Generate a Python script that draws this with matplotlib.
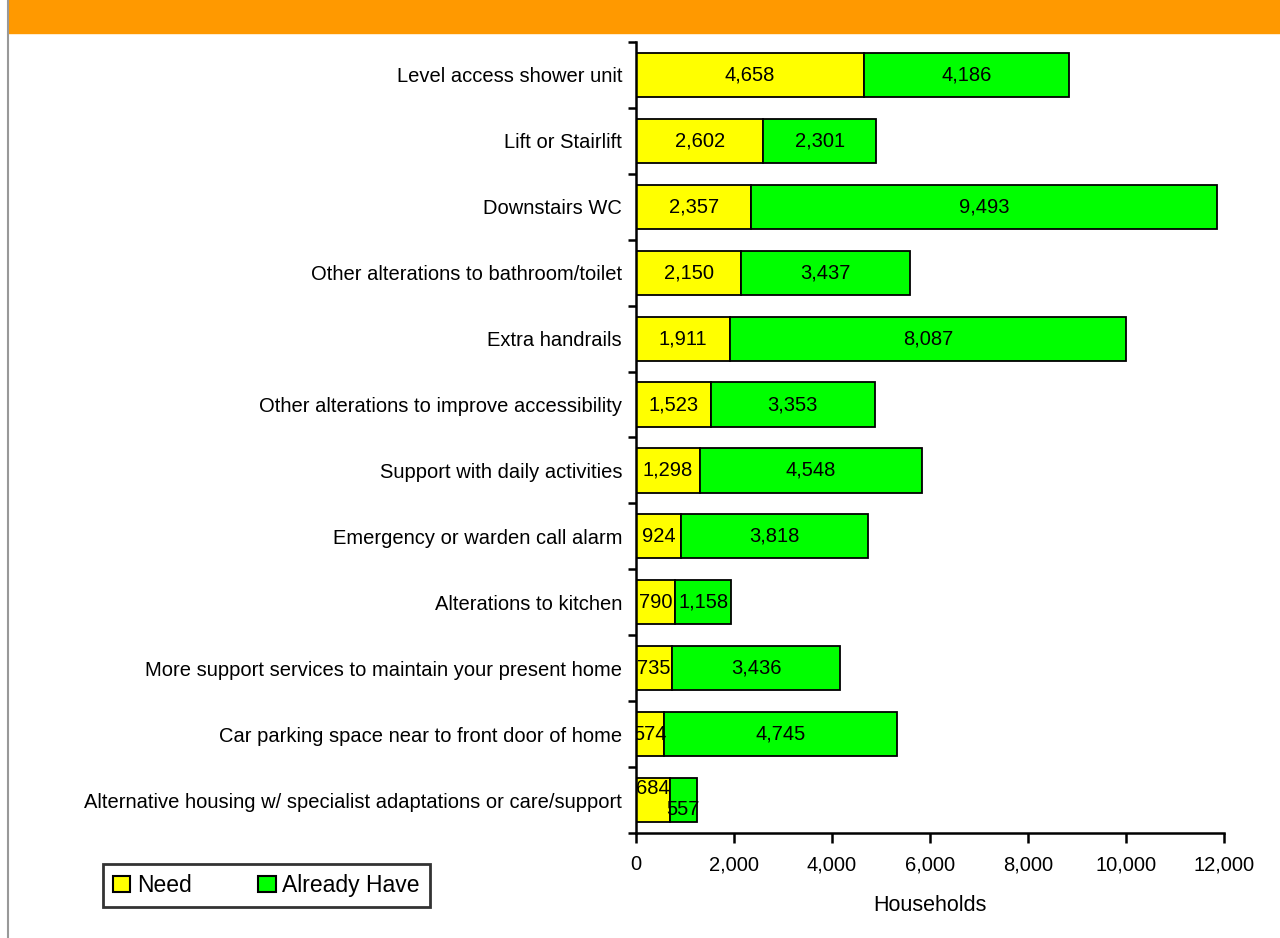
import matplotlib
matplotlib.use("Agg")
import matplotlib.pyplot as plt
from matplotlib.patches import Rectangle, Patch
from matplotlib.lines import Line2D

categories = [
    "Level access shower unit",
    "Lift or Stairlift",
    "Downstairs WC",
    "Other alterations to bathroom/toilet",
    "Extra handrails",
    "Other alterations to improve accessibility",
    "Support with daily activities",
    "Emergency or warden call alarm",
    "Alterations to kitchen",
    "More support services to maintain your present home",
    "Car parking space near to front door of home",
    "Alternative housing w/ specialist adaptations or care/support",
]
need = [4658, 2602, 2357, 2150, 1911, 1523, 1298, 924, 790, 735, 574, 684]
already_have = [4186, 2301, 9493, 3437, 8087, 3353, 4548, 3818, 1158, 3436, 4745, 557]
xticks = [0, 2000, 4000, 6000, 8000, 10000, 12000]

plt.rcParams['font.family'] = ['Liberation Sans', 'DejaVu Sans']

fig = plt.figure(figsize=(12.8, 9.38), dpi=100)
W, H = 1280, 938

# header band and left border
fig.patches.append(Rectangle((8 / W, 1 - 33 / H), 1 - 8 / W, 33 / H,
                             transform=fig.transFigure, color="#FF9900", zorder=0))
fig.lines.append(Line2D([8 / W, 8 / W], [0, 1], transform=fig.transFigure,
                        color="#999999", lw=1.5))

ax = fig.add_axes([636 / W, 1 - 833 / H, (1224 - 636) / W, (833 - 42) / H])
y = list(range(len(categories)))
h = 0.67
ax.barh(y, need, height=h, color="#FFFF00", edgecolor="black", lw=1.3, label="Need")
ax.barh(y, already_have, left=need, height=h, color="#00FF00", edgecolor="black",
        lw=1.3, label="Already Have")

fs = 14.5
ax.set_ylim(len(categories) - 0.5, -0.5)
ax.set_xlim(0, 12000)
ax.set_xticks(xticks)
ax.set_xticklabels([f"{v:,}" for v in xticks], fontsize=fs)
ax.set_yticks(y)
ax.set_yticklabels(categories, fontsize=fs)
ax.set_yticks([i - 0.5 for i in range(len(categories) + 1)], minor=True)
ax.tick_params(axis='y', which='major', length=0, pad=10)
ax.tick_params(axis='y', which='minor', length=6, width=1.8, direction='out')
ax.tick_params(axis='x', length=7, width=1.8, direction='out', pad=9)
ax.spines['top'].set_visible(False)
ax.spines['right'].set_visible(False)
ax.spines['left'].set_linewidth(1.8)
ax.spines['bottom'].set_linewidth(1.8)
ax.set_xlabel("Households", fontsize=15.5, labelpad=15)

for i, (n, a) in enumerate(zip(need, already_have)):
    dy_n, dy_a = 0, 0
    if i == len(categories) - 1:
        dy_n, dy_a = -0.18, 0.15
    ax.text(n / 2, i + dy_n, f"{n:,}", ha="center", va="center", fontsize=fs, clip_on=True)
    ax.text(n + a / 2, i + dy_a, f"{a:,}", ha="center", va="center", fontsize=fs, clip_on=True)

handles = [Patch(facecolor="#FFFF00", edgecolor="black", lw=1.5, label="Need"),
           Patch(facecolor="#00FF00", edgecolor="black", lw=1.5, label="Already Have")]
leg = fig.legend(handles=handles, loc="center", bbox_to_anchor=((85 + 448) / 2 / W, 1 - 885.5 / H),
                 ncol=2, fontsize=16.5, frameon=True, fancybox=False, edgecolor="black",
                 handlelength=0.75, handleheight=0.75, handletextpad=0.3, columnspacing=2.9,
                 borderpad=0.45, borderaxespad=0)
leg.get_frame().set_linewidth(2)

fig.savefig("out.png", dpi=100)
